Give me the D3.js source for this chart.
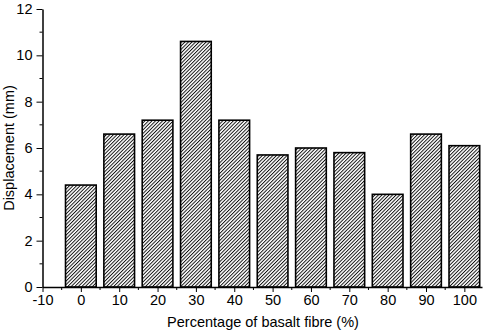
<!DOCTYPE html>
<html>
<head>
<meta charset="utf-8">
<script src="https://d3js.org/d3.v7.min.js"></script>
<style>
  body { margin: 0; background: #fff; }
  text { font-family: "Liberation Sans", Arial, sans-serif; fill: #000; }
</style>
</head>
<body>
<svg id="chart" width="483" height="331"></svg>
<script>
// fibre percentage and measured displacement
const fibre = [0, 10, 20, 30, 40, 50, 60, 70, 80, 90, 100];
const displacement = [4.4, 6.6, 7.2, 10.6, 7.2, 5.7, 6.0, 5.8, 4.0, 6.6, 6.1];
const xTicks = [-10, 0, 10, 20, 30, 40, 50, 60, 70, 80, 90, 100];
const yTicks = [0, 2, 4, 6, 8, 10, 12];

const svg = d3.select("#chart"),
    mLeft = 42.5, mRight = 482, mTop = 9, mBottom = 287,
    barW = 8;

const x = d3.scaleLinear().domain([-10, 104.6]).range([mLeft, mRight]);
const y = d3.scaleLinear().domain([0, 12]).range([mBottom, mTop]);

// hatch pattern "/"
const defs = svg.append("defs");
defs.append("pattern")
    .attr("id", "hatch")
    .attr("patternUnits", "userSpaceOnUse")
    .attr("width", 2.5).attr("height", 2.5)
    .attr("patternTransform", "rotate(45)")
    .append("line")
    .attr("x1", 0.5).attr("y1", 0).attr("x2", 0.5).attr("y2", 2.5)
    .attr("stroke", "#000").attr("stroke-width", 0.9);

svg.append("g").selectAll("rect")
    .data(fibre).enter()
    .append("rect")
    .attr("x", (d) => x(d - barW / 2))
    .attr("y", (d, i) => y(displacement[i]))
    .attr("width", (d) => x(d + barW / 2) - x(d - barW / 2))
    .attr("height", (d, i) => mBottom - y(displacement[i]))
    .attr("fill", "url(#hatch)")
    .attr("stroke", "#000")
    .attr("stroke-width", 1.6);

// axes (plain hyphen for negatives, like the original)
const xAxis = d3.axisBottom(x).tickValues(xTicks).tickFormat((d) => String(d))
    .tickSize(5).tickPadding(3).tickSizeOuter(0);
const yAxis = d3.axisLeft(y).tickValues(yTicks).tickFormat((d) => String(d))
    .tickSize(6).tickPadding(4).tickSizeOuter(0);

const gx = svg.append("g").attr("transform", "translate(0," + mBottom + ")").call(xAxis);
const gy = svg.append("g").attr("transform", "translate(" + mLeft + ",0)").call(yAxis);

// minor ticks
gx.selectAll(".minor").data(d3.range(-5, 101, 10)).enter()
    .append("line").attr("class", "minor")
    .attr("x1", (d) => x(d)).attr("x2", (d) => x(d))
    .attr("y1", 0).attr("y2", 3)
    .attr("stroke", "#000");
gy.selectAll(".minor").data(d3.range(1, 12, 2)).enter()
    .append("line").attr("class", "minor")
    .attr("y1", (d) => y(d)).attr("y2", (d) => y(d))
    .attr("x1", 0).attr("x2", -3)
    .attr("stroke", "#000");

[gx, gy].forEach((g) => {
    g.select(".domain").attr("stroke-width", 1.5);
    g.selectAll("text").style("font-size", "14.5px").attr("font-family", null);
});

svg.append("text")
    .attr("x", x(47.5)).attr("y", 327)
    .attr("text-anchor", "middle")
    .style("font-size", "14.5px")
    .text("Percentage of basalt fibre (%)");

svg.append("text")
    .attr("transform", "translate(14," + y(6) + ") rotate(-90)")
    .attr("text-anchor", "middle")
    .style("font-size", "14.5px")
    .text("Displacement (mm)");
</script>
</body>
</html>
